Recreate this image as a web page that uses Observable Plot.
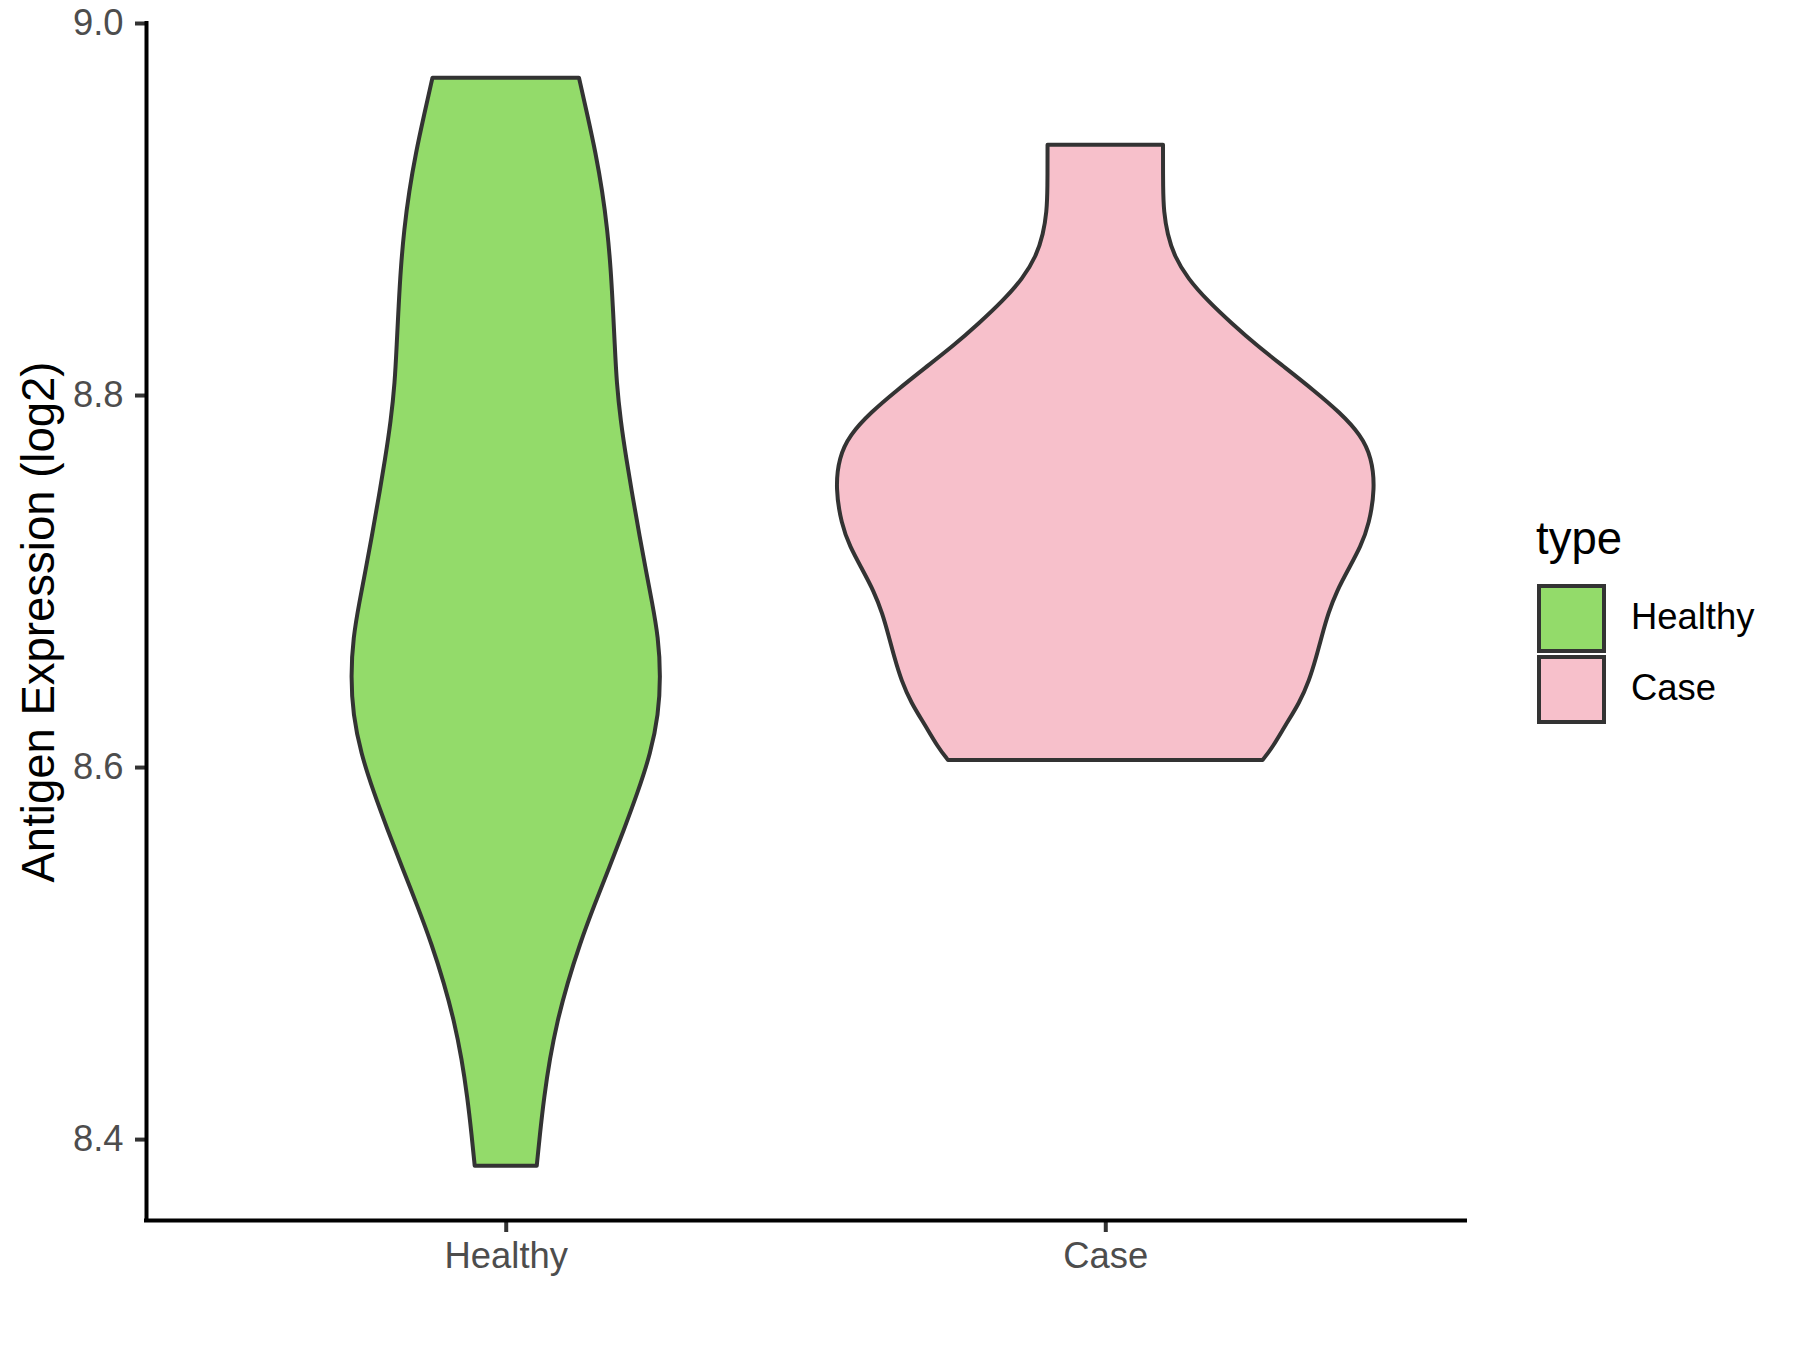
<!DOCTYPE html>
<html>
<head>
<meta charset="utf-8">
<script src="https://cdn.jsdelivr.net/npm/d3@7"></script>
<script src="https://cdn.jsdelivr.net/npm/@observablehq/plot@0.6"></script>
<style>
  html, body { margin: 0; padding: 0; background: #ffffff; }
  #wrap { position: relative; width: 1800px; height: 1350px; font-family: "Liberation Sans", Arial, sans-serif; }
  #wrap svg { display: block; }
  .leg { position: absolute; white-space: nowrap; line-height: 1; }
  .key { position: absolute; box-sizing: border-box; border: 4px solid #333333; }
</style>
</head>
<body>
<div id="wrap"></div>
<script>
// ---- data ----
const categories = ["Healthy", "Case"];
const categoryPos = [1, 2];
const fillColors = ["#93DB6A", "#F7C0CB"];
const yTicks = [8.4, 8.6, 8.8, 9.0];
const yTitle = "Antigen Expression (log2)";
const legendTitle = "type";

// Healthy violin: expression values (top to bottom) and relative density half-widths
const healthyExpr = [8.9706, 8.9506, 8.9301, 8.9097, 8.8889, 8.8683, 8.8478, 8.8274, 8.8066, 8.7860,
  8.7656, 8.7449, 8.7243, 8.7038, 8.6898, 8.6694, 8.6487, 8.6281, 8.6075, 8.5871,
  8.5663, 8.5457, 8.5253, 8.5046, 8.4840, 8.4634, 8.4430, 8.4223, 8.4017, 8.3857];
const healthyDensity = [0.2715, 0.3026, 0.3333, 0.358, 0.3767, 0.389, 0.397, 0.404, 0.411, 0.426,
  0.447, 0.471, 0.496, 0.522, 0.541, 0.566, 0.574, 0.566, 0.537, 0.491,
  0.438, 0.383, 0.327, 0.274, 0.229, 0.191, 0.163, 0.142, 0.126, 0.115];

// Case violin
const caseExpr = [8.9346, 8.9106, 8.8986, 8.8866, 8.8746, 8.8626, 8.8506, 8.8386, 8.8266, 8.8146,
  8.8026, 8.7906, 8.7786, 8.7666, 8.7498, 8.7306, 8.7186, 8.7066, 8.6946, 8.6826,
  8.6706, 8.6586, 8.6466, 8.6346, 8.6226, 8.6106, 8.6038];
const caseDensity = [0.214, 0.214, 0.217, 0.23, 0.256, 0.306, 0.38, 0.468, 0.562, 0.668,
  0.772, 0.87, 0.947, 0.987, 1.0, 0.978, 0.947, 0.902, 0.858, 0.826,
  0.803, 0.781, 0.756, 0.72, 0.668, 0.62, 0.583];

// ---- build table ----
const exprs = [healthyExpr, caseExpr];
const dens = [healthyDensity, caseDensity];
const rows = categories.flatMap((c, i) =>
  exprs[i].map((v, j) => ({type: c, pos: categoryPos[i], v, w: dens[i][j]})));

const violinHalf = 0.45;            // max half-width in x units (ggplot width 0.9)
const xDomain = [0.4, 2.6];
const yMin = 8.3565, yMax = 9.0;

const chart = Plot.plot({
  width: 1800,
  height: 1350,
  marginLeft: 146,
  marginRight: 335,
  marginTop: 23,
  marginBottom: 130,
  style: {fontFamily: "'Liberation Sans', Arial, sans-serif", background: "#ffffff"},
  x: {domain: xDomain, axis: null},
  y: {domain: [yMin, yMax], axis: null},
  color: {domain: categories, range: fillColors},
  marks: [
    Plot.areaX(rows, {
      y: "v",
      x1: d => d.pos - d.w * violinHalf,
      x2: d => d.pos + d.w * violinHalf,
      fill: "type",
      z: "type",
      stroke: "#333333",
      strokeWidth: 4,
      strokeLinejoin: "round",
      curve: "basis"
    }),
    Plot.axisY({
      ticks: yTicks, tickFormat: d3.format(".1f"),
      tickSize: 11, tickPadding: 12, fontSize: 36.4,
      stroke: "#333333", strokeWidth: 4, fill: "#4D4D4D", label: null
    }),
    Plot.axisX({
      ticks: categoryPos, tickFormat: d => categories[d - 1],
      tickSize: 12, tickPadding: 10, fontSize: 36.4,
      stroke: "#333333", strokeWidth: 4, fill: "#4D4D4D", label: null
    }),
    Plot.ruleX([xDomain[0]], {stroke: "#000000", strokeWidth: 4, strokeLinecap: "square"}),
    Plot.ruleY([yMin], {stroke: "#000000", strokeWidth: 4, strokeLinecap: "square"}),
    Plot.text([yTitle], {
      frameAnchor: "left", rotate: -90, dx: -93, dy: 0,
      fontSize: 45.5, fill: "#000000", lineAnchor: "bottom", textAnchor: "middle"
    })
  ]
});

const wrap = document.getElementById("wrap");
wrap.appendChild(chart);

// ---- legend (ggplot-style, right side) ----
function addText(txt, left, top, size) {
  const d = document.createElement("div");
  d.className = "leg";
  d.textContent = txt;
  d.style.left = left + "px";
  d.style.top = top + "px";
  d.style.fontSize = size + "px";
  d.style.color = "#000000";
  wrap.appendChild(d);
}
addText(legendTitle, 1536, 516, 45.5);
categories.forEach((c, i) => {
  const k = document.createElement("div");
  k.className = "key";
  k.style.left = "1537px";
  k.style.top = (584 + i * 71) + "px";
  k.style.width = "69px";
  k.style.height = "69px";
  k.style.background = fillColors[i];
  wrap.appendChild(k);
  addText(c, 1631, 599 + i * 71, 36.4);
});
</script>
</body>
</html>
